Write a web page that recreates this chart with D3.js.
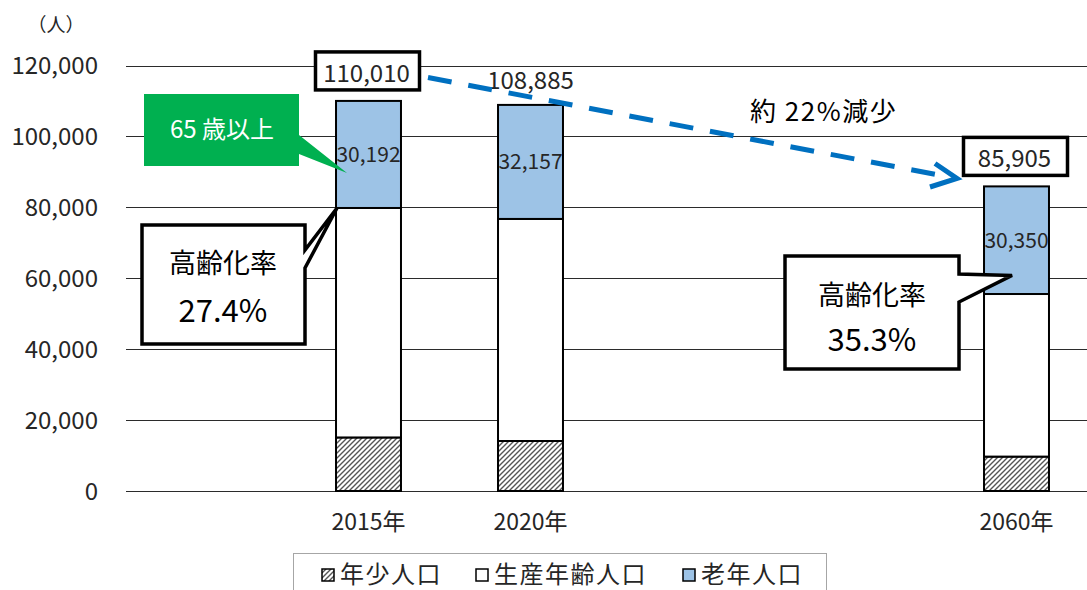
<!DOCTYPE html>
<html><head><meta charset="utf-8">
<script src="https://cdn.jsdelivr.net/npm/d3@7"></script>
<style>
html,body{margin:0;padding:0;background:#fff;}
svg{display:block;}
text{font-family:"Noto Sans CJK JP","Noto Sans",sans-serif;}
</style></head>
<body>
<svg id="c" width="1087" height="590"></svg>
<script>
// ---- data ----
const slots = ["s0", "2015年", "2020年", "s3", "s4", "2060年"];
const categories = ["2015年", "2020年", "2060年"];
const young = [15100, 14100, 9700];
const working = [64718, 62628, 45855];
const elderly = [30192, 32157, 30350];
const totals = [110010, 108885, 85905];
const yTicks = [0, 20000, 40000, 60000, 80000, 100000, 120000];
const seriesNames = ["年少人口", "生産年齢人口", "老年人口"];
const boxedTotals = ["2015年", "2060年"];

const svg = d3.select("#c");
const x = d3.scaleBand().domain(slots).range([125.5, 1097.5]).paddingInner(0.599).paddingOuter(0.2995);
const y = d3.scaleLinear().domain([0, 120000]).range([491, 65.5]);

// patterns
const defs = svg.append("defs");
const pat = defs.append("pattern").attr("id", "hatch").attr("patternUnits", "userSpaceOnUse")
  .attr("width", 5).attr("height", 5);
pat.append("rect").attr("width", 5).attr("height", 5).attr("fill", "#fff");
pat.append("path").attr("d", "M-1,6 L6,-1 M-2,2 L2,-2 M3,7 L7,3").attr("stroke", "#555").attr("stroke-width", 1.4);

// gridlines
svg.append("g").selectAll("line").data(yTicks).join("line")
  .attr("x1", 126).attr("x2", 1087)
  .attr("y1", d => Math.round(y(d)) + 0.5).attr("y2", d => Math.round(y(d)) + 0.5)
  .attr("stroke", "#2b2b2b").attr("stroke-width", 1);

// y axis labels
const yAxis = d3.axisLeft(y).tickValues(yTicks).tickFormat(d3.format(",")).tickSize(0).tickPadding(0);
const ya = svg.append("g").attr("transform", "translate(98,0)").call(yAxis);
ya.select(".domain").remove();
ya.selectAll("text").attr("font-size", 24).attr("fill", "#262626")
  .attr("font-family", '"Noto Sans CJK JP", sans-serif').attr("dy", "0.35em");

svg.append("text").attr("x", 56).attr("y", 32).attr("text-anchor", "middle")
  .attr("font-size", 19).attr("fill", "#262626").text("（人）");

// x axis labels
const xAxis = d3.axisBottom(x).tickValues(categories).tickSize(0).tickPadding(0);
const xa = svg.append("g").attr("transform", "translate(0,491)").call(xAxis);
xa.select(".domain").remove();
xa.selectAll("text").attr("font-size", 23).attr("fill", "#262626")
  .attr("font-family", '"Noto Sans CJK JP", sans-serif').attr("dy", "39").attr("dominant-baseline", "auto");

// stacked bars
const rows = categories.map((c, i) => ({cat: c, young: young[i], working: working[i], elderly: elderly[i]}));
const stack = d3.stack().keys(["young", "working", "elderly"])(rows);
const fills = {young: "url(#hatch)", working: "#ffffff", elderly: "#9dc3e6"};
svg.append("g").selectAll("g").data(stack).join("g")
  .attr("fill", d => fills[d.key])
  .selectAll("rect").data(d => d).join("rect")
  .attr("x", d => x(d.data.cat)).attr("width", x.bandwidth())
  .attr("y", d => y(d[1])).attr("height", d => y(d[0]) - y(d[1]))
  .attr("stroke", "#000").attr("stroke-width", 2);

// elderly value labels
svg.append("g").selectAll("text").data(stack[2]).join("text")
  .attr("x", d => x(d.data.cat) + x.bandwidth() / 2)
  .attr("y", d => (y(d[0]) + y(d[1])) / 2).attr("dy", "0.35em")
  .attr("text-anchor", "middle").attr("font-size", 21).attr("fill", "#262626")
  .text(d => d3.format(",")(d.data.elderly));

// total labels
const fmt = d3.format(",");
categories.forEach((c, i) => {
  const cx = x(c) + x.bandwidth() / 2;
  const ty = y(totals[i]);
  const boxed = boxedTotals.includes(c);
  if (boxed) {
    svg.append("rect").attr("x", cx - 53).attr("y", ty - 49).attr("width", 104).attr("height", 38)
      .attr("fill", "#fff").attr("stroke", "#000").attr("stroke-width", 3.5);
  }
  svg.append("text").attr("x", cx - (boxed ? 2 : 0)).attr("y", ty - (boxed ? 19 : 16))
    .attr("text-anchor", "middle").attr("font-size", 24).attr("fill", "#262626")
    .text(fmt(totals[i]));
});

// dashed arrow showing decrease
const ax0 = 428, ay0 = 77.5, ax1 = 957, ay1 = 178.5;
svg.append("line").attr("x1", ax0).attr("y1", ay0).attr("x2", ax1 - 12).attr("y2", ay1 - 2.3)
  .attr("stroke", "#0070c0").attr("stroke-width", 5).attr("stroke-dasharray", "24 17");
svg.append("path").attr("d", `M935,163.5 L${ax1},${ay1} L930,187`)
  .attr("fill", "none").attr("stroke", "#0070c0").attr("stroke-width", 5)
  .attr("stroke-linejoin", "miter").attr("stroke-linecap", "butt");
svg.append("text").attr("x", 750).attr("y", 121).attr("font-size", 26)
  .attr("letter-spacing", 1.5).attr("fill", "#000").text("約 22%減少");

// green callout "65歳以上"
const g1x = x("2015年"), g1y = y(90000);
svg.append("path")
  .attr("d", `M144,94 H299 V135 L${g1x + 11},${g1y + 1} L299,154 V166 H144 Z`)
  .attr("fill", "#00b050");
svg.append("text").attr("x", 222).attr("y", 138).attr("text-anchor", "middle")
  .attr("font-size", 24).attr("fill", "#fff").text("65 歳以上");

// callout 2015 ratio
const t1x = x("2015年"), t1y = y(young[0] + working[0]);
svg.append("path")
  .attr("d", `M142,225 H305 V250 L${t1x + 1},${t1y} L305,268 V344 H142 Z`)
  .attr("fill", "#fff").attr("stroke", "#000").attr("stroke-width", 3.5).attr("stroke-linejoin", "miter");
svg.append("text").attr("x", 223).attr("y", 273).attr("text-anchor", "middle")
  .attr("font-size", 27).attr("fill", "#000").text("高齢化率");
svg.append("text").attr("x", 223).attr("y", 322).attr("text-anchor", "middle")
  .attr("font-size", 31).attr("fill", "#000").text("27.4%");

// callout 2060 ratio
const t2x = x("2060年") + 28, t2y = y(60800);
svg.append("path")
  .attr("d", `M785,256 H959 V274 L${t2x},${t2y} L959,302 V369 H785 Z`)
  .attr("fill", "#fff").attr("stroke", "#000").attr("stroke-width", 3.5).attr("stroke-linejoin", "miter");
svg.append("text").attr("x", 872).attr("y", 305).attr("text-anchor", "middle")
  .attr("font-size", 27).attr("fill", "#000").text("高齢化率");
svg.append("text").attr("x", 872).attr("y", 351).attr("text-anchor", "middle")
  .attr("font-size", 31).attr("fill", "#000").text("35.3%");

// legend
const lg = svg.append("g");
lg.append("rect").attr("x", 293.5).attr("y", 553.5).attr("width", 533).attr("height", 60)
  .attr("fill", "#fff").attr("stroke", "#a6a6a6").attr("stroke-width", 1);
const legX = [322, 476, 683];
const legFill = ["url(#hatch)", "#ffffff", "#9dc3e6"];
seriesNames.forEach((n, i) => {
  lg.append("rect").attr("x", legX[i]).attr("y", 569).attr("width", 12).attr("height", 12)
    .attr("fill", legFill[i]).attr("stroke", "#000").attr("stroke-width", 1.5);
  lg.append("text").attr("x", legX[i] + 18).attr("y", 583).attr("font-size", 24)
    .attr("letter-spacing", 1.5).attr("fill", "#262626").text(n);
});
</script>
</body></html>
